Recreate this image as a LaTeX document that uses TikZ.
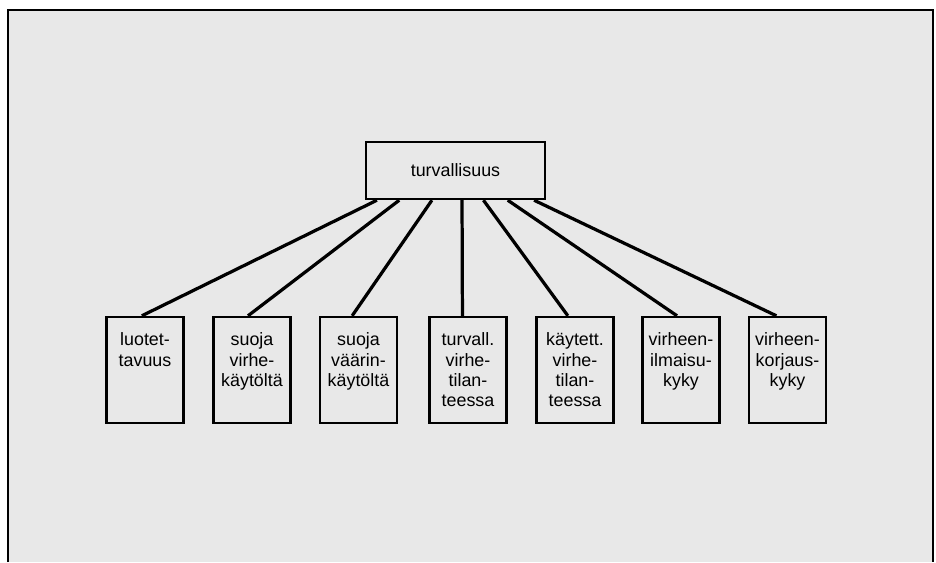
\documentclass[tikz,border=0pt]{standalone}
\usepackage{fontspec}
\setmainfont{Liberation Sans}
\usetikzlibrary{calc}

\tikzset{
    topbox/.style={draw, line width=1.7pt, minimum width=4.475cm, minimum height=1.425cm, inner sep=0pt, font=\fontsize{12.7}{14.5}\selectfont},
    subbox/.style={draw, line width=1.7pt, minimum width=1.925cm, minimum height=2.65cm, inner sep=0pt},
    subtext/.style={text width=1.9cm, align=center, anchor=base, inner sep=0pt, font=\fontsize{12.7}{14.5}\selectfont},
    link/.style={line width=2.3pt},
}

\begin{document}
\begin{tikzpicture}[x=0.025cm, y=-0.025cm]
    \def\boxy{370}  % centre height of the lower boxes

    \useasboundingbox (0,0) rectangle (936,562);

    % Draw the shaded sheet and its frame
    \fill[black!9] (8,10) rectangle (933,562);
    \draw[line width=1.5pt] (8,562) -- (8,10) -- (933,10) -- (933,562);

    % Creates the top node
    \node[topbox] (turv) at (455.5,170.5) {\raisebox{1pt}{turvallisuus}};

    % Creates the lower nodes and the lines to them
    \foreach \x/\name/\txt/\s/\f in {
        145/luot/{luotet-\\tavuus}/0.067/0.46,
        252/vkay/{suoja\\virhe-\\käytöltä}/0.19/0.45,
        358.5/vaar/{suoja\\väärin-\\käytöltä}/0.37/0.42,
        468/turvt/{turvall.\\virhe-\\tilan-\\teessa}/0.536/0.43,
        575/kayt/{käytett.\\virhe-\\tilan-\\teessa}/0.654/0.41,
        681/ilm/{virheen-\\ilmaisu-\\kyky}/0.788/0.45,
        787.5/korj/{virheen-\\korjaus-\\kyky}/0.933/0.36} {
        \node[subbox] (\name) at (\x,\boxy) {};
        \node[subtext] (\name-t) at ($(\name.north)+(0,30)$) {\txt};
        \draw[link] ($(turv.south west)!\s!(turv.south east)$) -- ($(\name.north west)!\f!(\name.north east)$);
    }

\end{tikzpicture}
\end{document}
